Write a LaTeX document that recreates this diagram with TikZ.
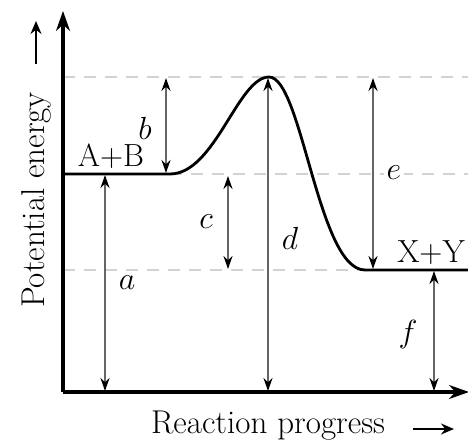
\RequirePackage{fix-cm}
\documentclass[tikz,border=0pt]{standalone}
\usetikzlibrary{arrows.meta}
\begin{document}
\begin{tikzpicture}[x=1pt,y=-1pt,
  axis/.style={line width=3.2pt,-{Stealth[length=20pt,width=14pt]}},
  guide/.style={gray!35,line width=1.8pt,dash pattern=on 12pt off 9pt},
  meas/.style={gray!80!black,line width=2.2pt,{Stealth[black,length=13pt,width=9pt]}-{Stealth[black,length=13pt,width=9pt]}},
  curve/.style={line width=2.8pt},
  lbl/.style={font=\fontsize{32}{34}\selectfont},
  ttl/.style={font=\fontsize{33}{35}\selectfont}]
\useasboundingbox (0,0) rectangle (468,446);
% levels
\coordinate (O) at (63,392);
\coordinate (ytop) at (63,11);
\coordinate (xend) at (469,392);
\coordinate (peak) at (269,77);
\coordinate (ab0) at (63,174);
\coordinate (ab1) at (170,174);
\coordinate (xy0) at (365,270);
\coordinate (xy1) at (468,270);
% guides
\draw[guide] (63,77) -- (468,77);
\draw[guide] (ab1) -- (468,174);
\draw[guide] (63,270) -- (xy0);
% curve
\draw[curve] (ab0) -- (ab1) .. controls (215,174) and (238,77) .. (peak)
  .. controls (302,77) and (318,270) .. (xy0) -- (xy1);
% measurement arrows
\coordinate (a1) at (105,175); \coordinate (a2) at (105,391);
\coordinate (b1) at (166,78);  \coordinate (b2) at (166,173);
\coordinate (c1) at (228,176); \coordinate (c2) at (228,269);
\coordinate (d1) at (268,78);  \coordinate (d2) at (268,391);
\coordinate (e1) at (373,78);  \coordinate (e2) at (373,269);
\coordinate (f1) at (434,271); \coordinate (f2) at (434,391);
\draw[meas] (a1) -- (a2);
\draw[meas] (b1) -- (b2);
\draw[meas] (c1) -- (c2);
\draw[meas] (d1) -- (d2);
\draw[meas] (e1) -- (e2);
\draw[meas] (f1) -- (f2);
\node[lbl] (la) at (127,283) {$a$};
\node[lbl] (lb) at (145,128) {$b$};
\node[lbl] (lc) at (206,222) {$c$};
\node[lbl] (ld) at (290,238) {$d$};
\node[lbl,fill=white,inner sep=3pt] (le) at (394,173) {$e$};
\node[lbl] (lf) at (408,334) {$f$};
\node[lbl] (lab) at (111,156) {A+B};
\node[lbl] (lxy) at (431,253) {X+Y};
% axes
\draw[axis] (O) -- (ytop);
\draw[axis] (O) -- (xend);
% axis titles
\node[ttl] (xt) at (268,426) {Reaction progress};
\coordinate (xa1) at (413,429); \coordinate (xa2) at (454,429);
\draw[line width=2pt,-{Stealth[length=13pt,width=11pt]}] (xa1) -- (xa2);
\node[ttl,rotate=90] (yt) at (36,200) {Potential energy};
\coordinate (ya1) at (36,64); \coordinate (ya2) at (36,21);
\draw[line width=2pt,-{Stealth[length=13pt,width=11pt]}] (ya1) -- (ya2);
\end{tikzpicture}
\end{document}
